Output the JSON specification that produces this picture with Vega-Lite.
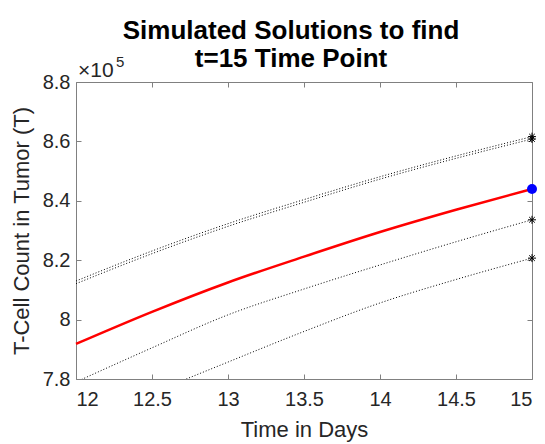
{
  "$schema": "https://vega.github.io/schema/vega-lite/v6.json",
  "width": 456,
  "height": 297,
  "autosize": {"type": "none"},
  "padding": {"left": 76, "top": 82, "right": 13, "bottom": 65},
  "background": "white",
  "config": {
    "view": {"stroke": null},
    "font": "Liberation Sans",
    "axis": {
      "domainColor": "#808080",
      "domainWidth": 1,
      "tickColor": "#808080",
      "tickSize": -5,
      "grid": false,
      "labelFont": "Liberation Sans",
      "labelFontSize": 20,
      "labelColor": "#262626",
      "titleFont": "Liberation Sans",
      "titleFontSize": 22,
      "titleFontWeight": "normal",
      "titleColor": "#262626"
    }
  },
  "title": {
    "text": ["Simulated Solutions to find", "t=15 Time Point"],
    "font": "Liberation Sans",
    "fontSize": 26,
    "fontWeight": "bold",
    "color": "black",
    "lineHeight": 28,
    "offset": -17,
    "dx": -13
  },
  "datasets": {
    "sims": [
      {"t": 12, "T": 813000, "run": "a"},
      {"t": 12.5, "T": 823100, "run": "a"},
      {"t": 13, "T": 832300, "run": "a"},
      {"t": 13.5, "T": 840400, "run": "a"},
      {"t": 14, "T": 848100, "run": "a"},
      {"t": 14.5, "T": 855100, "run": "a"},
      {"t": 15, "T": 861600, "run": "a"},
      {"t": 12, "T": 812100, "run": "b"},
      {"t": 12.5, "T": 822200, "run": "b"},
      {"t": 13, "T": 831400, "run": "b"},
      {"t": 13.5, "T": 839500, "run": "b"},
      {"t": 14, "T": 847300, "run": "b"},
      {"t": 14.5, "T": 854300, "run": "b"},
      {"t": 15, "T": 860800, "run": "b"},
      {"t": 12, "T": 779000, "run": "c"},
      {"t": 12.5, "T": 790500, "run": "c"},
      {"t": 13, "T": 801600, "run": "c"},
      {"t": 13.5, "T": 810300, "run": "c"},
      {"t": 14, "T": 818400, "run": "c"},
      {"t": 14.5, "T": 826200, "run": "c"},
      {"t": 15, "T": 833600, "run": "c"},
      {"t": 12, "T": 764000, "run": "d"},
      {"t": 12.5, "T": 775200, "run": "d"},
      {"t": 13, "T": 785700, "run": "d"},
      {"t": 13.5, "T": 796000, "run": "d"},
      {"t": 14, "T": 805600, "run": "d"},
      {"t": 14.5, "T": 813500, "run": "d"},
      {"t": 15, "T": 820700, "run": "d"}
    ],
    "model": [
      {"t": 12, "T": 791800},
      {"t": 12.5, "T": 802600},
      {"t": 13, "T": 812500},
      {"t": 13.5, "T": 821200},
      {"t": 14, "T": 829500},
      {"t": 14.5, "T": 837000},
      {"t": 15, "T": 844000}
    ],
    "ends": [
      {"t": 15, "T": 861600},
      {"t": 15, "T": 860800},
      {"t": 15, "T": 833600},
      {"t": 15, "T": 820700}
    ],
    "target": [
      {"t": 15, "T": 844000}
    ],
    "exponent": [
      {"part": "base", "label": "×10"},
      {"part": "power", "label": "5"}
    ]
  },
  "layer": [
    {
      "data": {"name": "sims"},
      "mark": {"type": "line", "color": "black", "strokeWidth": 1, "strokeDash": [1, 2], "clip": true, "interpolate": "monotone"},
      "encoding": {
        "x": {"field": "t", "type": "quantitative", "scale": {"domain": [12, 15], "nice": false, "zero": false},
              "axis": {"values": [12, 12.5, 13, 13.5, 14, 14.5, 15], "format": "~g", "title": "Time in Days", "labelPadding": 15, "titlePadding": 10}},
        "y": {"field": "T", "type": "quantitative", "scale": {"domain": [780000, 880000], "nice": false, "zero": false},
              "axis": {"values": [780000, 800000, 820000, 840000, 860000, 880000], "labelExpr": "format(datum.value/1e5, '~g')", "title": "T-Cell Count in Tumor (T)", "labelPadding": 11, "titlePadding": 9}},
        "detail": {"field": "run"}
      }
    },
    {
      "data": {"name": "model"},
      "mark": {"type": "line", "color": "#ff0000", "strokeWidth": 2.5, "interpolate": "monotone"},
      "encoding": {
        "x": {"field": "t", "type": "quantitative", "scale": {"domain": [12, 15], "nice": false, "zero": false}, "axis": null},
        "y": {"field": "T", "type": "quantitative", "scale": {"domain": [780000, 880000], "nice": false, "zero": false}, "axis": null}
      }
    },
    {
      "data": {"name": "ends"},
      "mark": {"type": "point", "shape": "M-1,0L1,0M0,-1L0,1M-0.7,-0.7L0.7,0.7M-0.7,0.7L0.7,-0.7", "filled": false, "stroke": "black", "strokeWidth": 1, "size": 64, "opacity": 1},
      "encoding": {
        "x": {"field": "t", "type": "quantitative", "scale": {"domain": [12, 15], "nice": false, "zero": false}, "axis": null},
        "y": {"field": "T", "type": "quantitative", "scale": {"domain": [780000, 880000], "nice": false, "zero": false}, "axis": null}
      }
    },
    {
      "data": {"name": "target"},
      "mark": {"type": "circle", "color": "#0000ff", "size": 100, "opacity": 1},
      "encoding": {
        "x": {"field": "t", "type": "quantitative", "scale": {"domain": [12, 15], "nice": false, "zero": false},
              "axis": {"orient": "top", "values": [12, 12.5, 13, 13.5, 14, 14.5, 15], "labels": false, "title": null}},
        "y": {"field": "T", "type": "quantitative", "scale": {"domain": [780000, 880000], "nice": false, "zero": false},
              "axis": {"orient": "right", "values": [780000, 800000, 820000, 840000, 860000, 880000], "labels": false, "title": null}}
      }
    },
    {
      "data": {"name": "exponent"},
      "transform": [{"filter": "datum.part == 'base'"}],
      "mark": {"type": "text", "align": "left", "baseline": "alphabetic", "dx": 2, "dy": -5, "fontSize": 21, "color": "#262626", "font": "Liberation Sans"},
      "encoding": {
        "x": {"datum": 12, "type": "quantitative", "scale": {"domain": [12, 15], "nice": false, "zero": false}, "axis": null},
        "y": {"datum": 880000, "type": "quantitative", "scale": {"domain": [780000, 880000], "nice": false, "zero": false}, "axis": null},
        "text": {"field": "label"}
      }
    },
    {
      "data": {"name": "exponent"},
      "transform": [{"filter": "datum.part == 'power'"}],
      "mark": {"type": "text", "align": "left", "baseline": "alphabetic", "dx": 40, "dy": -15, "fontSize": 15, "color": "#262626", "font": "Liberation Sans"},
      "encoding": {
        "x": {"datum": 12, "type": "quantitative", "scale": {"domain": [12, 15], "nice": false, "zero": false}, "axis": null},
        "y": {"datum": 880000, "type": "quantitative", "scale": {"domain": [780000, 880000], "nice": false, "zero": false}, "axis": null},
        "text": {"field": "label"}
      }
    }
  ],
  "resolve": {"axis": {"x": "independent", "y": "independent"}}
}
